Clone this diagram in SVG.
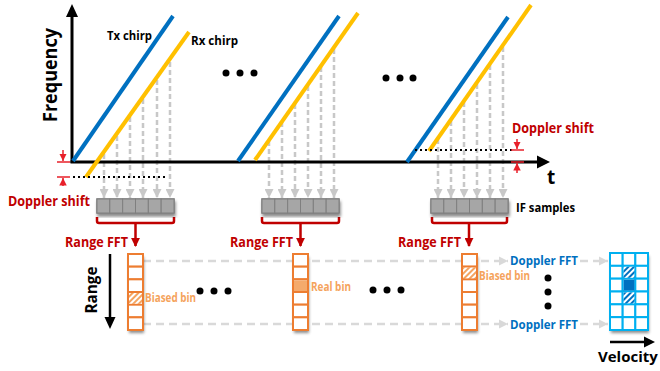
<svg xmlns="http://www.w3.org/2000/svg" width="660" height="371" viewBox="0 0 660 371">
  <style>
    text { font-family: "Open Sans", "Noto Sans", "DejaVu Sans", sans-serif; font-weight: bold; }
    .axis { stroke: #000; stroke-width: 3; fill: none; }
    .tx { stroke: #0070c0; stroke-width: 4; }
    .rx { stroke: #ffc000; stroke-width: 4; }
    .samp { stroke: #c8c8c8; stroke-width: 2.5; stroke-dasharray: 5 3; fill: none; }
    .dot { stroke: #000; stroke-width: 2; stroke-dasharray: 2 3; fill: none; }
    .red { fill: #c00000; }
    .redline { stroke: #c00000; stroke-width: 2.5; fill: none; }
    .shift { stroke: #e8202a; stroke-width: 1.5; fill: none; }
    .guide { stroke: #d9d9d9; stroke-width: 2.5; stroke-dasharray: 8 5; fill: none; }
    .cell { fill: #a6a6a6; stroke: #7f7f7f; stroke-width: 1; }
    .ocell { fill: #fff; stroke: #ed7d31; stroke-width: 2; }
    .bcell { fill: #fff; stroke: #00b0f0; stroke-width: 2; }
    .olabel { fill: #f5a35c; font-size: 12px; }
    .blabel { fill: #0070c0; font-size: 13px; }
  </style>
  <defs>
    <filter id="shadow" x="-30%" y="-30%" width="160%" height="160%">
      <feDropShadow dx="1" dy="3" stdDeviation="1.5" flood-color="#000" flood-opacity="0.45"/>
    </filter>
    <pattern id="hatchO" width="4" height="4" patternUnits="userSpaceOnUse" patternTransform="rotate(45)">
      <rect width="4" height="4" fill="#fff"/>
      <rect width="2" height="4" fill="#f4a460"/>
    </pattern>
    <pattern id="hatchB" width="4" height="4" patternUnits="userSpaceOnUse" patternTransform="rotate(45)">
      <rect width="4" height="4" fill="#fff"/>
      <rect width="2" height="4" fill="#0070c0"/>
    </pattern>
    <marker id="grayHead" viewBox="0 0 10 10" refX="10" refY="5" markerWidth="3.6" markerHeight="3.6" orient="auto" markerUnits="strokeWidth">
      <path d="M0,0 L10,5 L0,10 Z" fill="#c8c8c8"/>
    </marker>
    <marker id="guideHead" viewBox="0 0 10 10" refX="10" refY="5" markerWidth="3.6" markerHeight="4" orient="auto" markerUnits="strokeWidth">
      <path d="M0,0 L10,5 L0,10 Z" fill="#d9d9d9"/>
    </marker>
    <marker id="redHead" viewBox="0 0 10 10" refX="9" refY="5" markerWidth="3.6" markerHeight="3.6" orient="auto" markerUnits="strokeWidth">
      <path d="M0,0 L10,5 L0,10 Z" fill="#c00000"/>
    </marker>
    <marker id="shiftHead" viewBox="0 0 10 10" refX="10" refY="5" markerWidth="5" markerHeight="5" orient="auto" markerUnits="strokeWidth">
      <path d="M0,0 L10,5 L0,10 Z" fill="#e8202a"/>
    </marker>
    <g id="sampleBox">
      <rect x="0" y="0" width="77" height="14" fill="#8c8c8c" stroke="#7f7f7f" stroke-width="1.5" filter="url(#shadow)"/>
      <rect class="cell" x="0" y="0" width="12.83" height="14"/>
      <rect class="cell" x="12.83" y="0" width="12.83" height="14"/>
      <rect class="cell" x="25.67" y="0" width="12.83" height="14"/>
      <rect class="cell" x="38.5" y="0" width="12.83" height="14"/>
      <rect class="cell" x="51.33" y="0" width="12.83" height="14"/>
      <rect class="cell" x="64.17" y="0" width="12.83" height="14"/>
    </g>
    <g id="rangeCol">
      <rect x="0" y="0" width="15" height="76" fill="#fff" filter="url(#shadow)"/>
      <rect class="ocell" x="0" y="0" width="15" height="12.67"/>
      <rect class="ocell" x="0" y="12.67" width="15" height="12.67"/>
      <rect class="ocell" x="0" y="25.33" width="15" height="12.67"/>
      <rect class="ocell" x="0" y="38" width="15" height="12.67"/>
      <rect class="ocell" x="0" y="50.67" width="15" height="12.67"/>
      <rect class="ocell" x="0" y="63.33" width="15" height="12.67"/>
    </g>
  </defs>

  <!-- bottom guide lines feeding the Doppler FFT (drawn first, behind the columns) -->
  <g id="connectors">
    <path class="guide" d="M143,261 H508" marker-end="url(#guideHead)"/>
    <path class="guide" d="M580,261 H608" marker-end="url(#guideHead)"/>
    <path class="guide" d="M143,324 H508" marker-end="url(#guideHead)"/>
    <path class="guide" d="M580,324 H608" marker-end="url(#guideHead)"/>

    <!-- IF sampling arrows, chirp 1 -->
    <path class="samp" d="M104,154 V198" marker-end="url(#grayHead)"/>
    <path class="samp" d="M117,136 V198" marker-end="url(#grayHead)"/>
    <path class="samp" d="M130,117 V198" marker-end="url(#grayHead)"/>
    <path class="samp" d="M143,99 V198" marker-end="url(#grayHead)"/>
    <path class="samp" d="M157,80 V198" marker-end="url(#grayHead)"/>
    <path class="samp" d="M170,62 V198" marker-end="url(#grayHead)"/>
    <!-- chirp 2 -->
    <path class="samp" d="M269,141 V198" marker-end="url(#grayHead)"/>
    <path class="samp" d="M282,122 V198" marker-end="url(#grayHead)"/>
    <path class="samp" d="M295,104 V198" marker-end="url(#grayHead)"/>
    <path class="samp" d="M308,86 V198" marker-end="url(#grayHead)"/>
    <path class="samp" d="M321,67 V198" marker-end="url(#grayHead)"/>
    <path class="samp" d="M334,49 V198" marker-end="url(#grayHead)"/>
    <!-- chirp 3 -->
    <path class="samp" d="M438,139 V198" marker-end="url(#grayHead)"/>
    <path class="samp" d="M451,121 V198" marker-end="url(#grayHead)"/>
    <path class="samp" d="M464,102 V198" marker-end="url(#grayHead)"/>
    <path class="samp" d="M477,84 V198" marker-end="url(#grayHead)"/>
    <path class="samp" d="M490,65 V198" marker-end="url(#grayHead)"/>
    <path class="samp" d="M503,47 V198" marker-end="url(#grayHead)"/>

    <!-- brackets and Range FFT arrows -->
    <path class="redline" d="M97,217 V221 Q97,223 99,223 H172 Q174,223 174,221 V217 M135.5,223 V246" marker-end="url(#redHead)"/>
    <path class="redline" d="M262,217 V221 Q262,223 264,223 H337 Q339,223 339,221 V217 M300.5,223 V246" marker-end="url(#redHead)"/>
    <path class="redline" d="M432,217 V221 Q432,223 434,223 H505 Q507,223 507,221 V217 M469,223 V246" marker-end="url(#redHead)"/>
  </g>

  <!-- axes -->
  <g id="axes">
    <path class="axis" d="M72,163 V14"/>
    <path d="M66,17 L72,4 L78,17 Z" fill="#000"/>
    <path class="axis" d="M70.5,162 H538"/>
    <path d="M537,155.5 L550,162 L537,168.5 Z" fill="#000"/>
    <text x="0" y="0" font-size="19" transform="translate(57,75) rotate(-90)" text-anchor="middle" textLength="94" lengthAdjust="spacingAndGlyphs">Frequency</text>
    <text x="547" y="184" font-size="19">t</text>
  </g>

  <!-- chirps -->
  <g id="chirp1">
    <line class="tx" x1="73" y1="161" x2="173" y2="16"/>
    <line class="rx" x1="86" y1="177" x2="189" y2="32"/>
    <path class="dot" d="M73,177 H168"/>
    <text x="107" y="40" font-size="12" textLength="45" lengthAdjust="spacingAndGlyphs">Tx chirp</text>
    <text x="191" y="45" font-size="12" textLength="47" lengthAdjust="spacingAndGlyphs">Rx chirp</text>
  </g>
  <g id="chirp2">
    <line class="tx" x1="238" y1="161" x2="339" y2="16"/>
    <line class="rx" x1="255" y1="160" x2="358" y2="13"/>
  </g>
  <g id="chirp3">
    <line class="tx" x1="407" y1="162" x2="508" y2="17"/>
    <line class="rx" x1="429" y1="151" x2="531" y2="5"/>
    <path class="dot" d="M415,150 H513"/>
  </g>

  <!-- Doppler shift markers -->
  <g id="shiftLeft">
    <path class="shift" d="M57,162 H70 M57,177 H70"/>
    <path class="shift" d="M63,150 V161" marker-end="url(#shiftHead)"/>
    <path class="shift" d="M63,186 V178" marker-end="url(#shiftHead)"/>
    <text x="8" y="206" font-size="13.5" class="red" textLength="82" lengthAdjust="spacingAndGlyphs">Doppler shift</text>
  </g>
  <g id="shiftRight">
    <path class="shift" d="M511,150 H524 M511,162 H524"/>
    <path class="shift" d="M517,139 V149" marker-end="url(#shiftHead)"/>
    <path class="shift" d="M517,173 V163" marker-end="url(#shiftHead)"/>
    <text x="512" y="133" font-size="13.5" class="red" textLength="82" lengthAdjust="spacingAndGlyphs">Doppler shift</text>
  </g>

  <!-- ellipses -->
  <g id="dotsTop" fill="#000">
    <circle cx="226" cy="73" r="3.5"/><circle cx="240" cy="73" r="3.5"/><circle cx="254" cy="73" r="3.5"/>
    <circle cx="386" cy="78" r="3.5"/><circle cx="400" cy="78" r="3.5"/><circle cx="413" cy="78" r="3.5"/>
  </g>
  <g id="dotsBottom" fill="#000">
    <circle cx="200" cy="291" r="3.5"/><circle cx="214" cy="291" r="3.5"/><circle cx="228" cy="291" r="3.5"/>
    <circle cx="373" cy="290" r="3.5"/><circle cx="387" cy="290" r="3.5"/><circle cx="401" cy="290" r="3.5"/>
    <circle cx="548" cy="278" r="3.5"/><circle cx="548" cy="292" r="3.5"/><circle cx="548" cy="306" r="3.5"/>
  </g>

  <!-- IF sample buffers -->
  <g id="samples1"><use href="#sampleBox" x="97" y="199"/></g>
  <g id="samples2"><use href="#sampleBox" x="262" y="199"/></g>
  <g id="samples3"><use href="#sampleBox" x="431" y="199"/>
    <text x="516" y="212" font-size="12.5" textLength="59" lengthAdjust="spacingAndGlyphs">IF samples</text>
  </g>

  <!-- Range FFT labels -->
  <g id="rangeFftLabels" class="red">
    <text x="65" y="247" font-size="14" textLength="63" lengthAdjust="spacingAndGlyphs">Range FFT</text>
    <text x="230" y="247" font-size="14" textLength="63" lengthAdjust="spacingAndGlyphs">Range FFT</text>
    <text x="398" y="247" font-size="14" textLength="63" lengthAdjust="spacingAndGlyphs">Range FFT</text>
  </g>

  <!-- range axis -->
  <g id="rangeAxis">
    <path d="M110,254 V318" stroke="#000" stroke-width="2.5"/>
    <path d="M104.5,317 L110,329 L115.5,317 Z" fill="#000"/>
    <text x="0" y="0" font-size="16" transform="translate(97,290) rotate(-90)" text-anchor="middle" textLength="47" lengthAdjust="spacingAndGlyphs">Range</text>
  </g>

  <!-- range FFT outputs -->
  <g id="rangeCol1">
    <use href="#rangeCol" x="128" y="254"/>
    <rect x="129" y="293" width="13" height="10.67" fill="url(#hatchO)"/>
    <text x="145" y="302" class="olabel" textLength="51" lengthAdjust="spacingAndGlyphs">Biased bin</text>
  </g>
  <g id="rangeCol2">
    <use href="#rangeCol" x="293" y="254"/>
    <rect x="294" y="280.33" width="13" height="10.67" fill="#f4aa6c"/>
    <text x="311" y="291" class="olabel" textLength="40" lengthAdjust="spacingAndGlyphs">Real bin</text>
  </g>
  <g id="rangeCol3">
    <use href="#rangeCol" x="462" y="254"/>
    <rect x="463" y="267.67" width="13" height="10.67" fill="url(#hatchO)"/>
    <text x="479" y="279.5" class="olabel" textLength="51" lengthAdjust="spacingAndGlyphs">Biased bin</text>
  </g>

  <!-- Doppler FFT labels -->
  <g id="dopplerLabels">
    <text x="510" y="265" class="blabel" textLength="68" lengthAdjust="spacingAndGlyphs">Doppler FFT</text>
    <text x="510" y="329" class="blabel" textLength="68" lengthAdjust="spacingAndGlyphs">Doppler FFT</text>
  </g>

  <!-- range-Doppler map -->
  <g id="rdMap">
    <rect x="610" y="253" width="38" height="77" fill="#fff" filter="url(#shadow)"/>
    <g class="bcell">
      <rect x="610" y="253" width="12.67" height="12.83"/><rect x="622.67" y="253" width="12.67" height="12.83"/><rect x="635.33" y="253" width="12.67" height="12.83"/>
      <rect x="610" y="265.83" width="12.67" height="12.83"/><rect x="622.67" y="265.83" width="12.67" height="12.83"/><rect x="635.33" y="265.83" width="12.67" height="12.83"/>
      <rect x="610" y="278.67" width="12.67" height="12.83"/><rect x="622.67" y="278.67" width="12.67" height="12.83"/><rect x="635.33" y="278.67" width="12.67" height="12.83"/>
      <rect x="610" y="291.5" width="12.67" height="12.83"/><rect x="622.67" y="291.5" width="12.67" height="12.83"/><rect x="635.33" y="291.5" width="12.67" height="12.83"/>
      <rect x="610" y="304.33" width="12.67" height="12.83"/><rect x="622.67" y="304.33" width="12.67" height="12.83"/><rect x="635.33" y="304.33" width="12.67" height="12.83"/>
      <rect x="610" y="317.17" width="12.67" height="12.83"/><rect x="622.67" y="317.17" width="12.67" height="12.83"/><rect x="635.33" y="317.17" width="12.67" height="12.83"/>
    </g>
    <rect x="623.67" y="266.83" width="10.67" height="10.83" fill="url(#hatchB)"/>
    <rect x="623.67" y="279.67" width="10.67" height="10.83" fill="#0070c0"/>
    <rect x="623.67" y="292.5" width="10.67" height="10.83" fill="url(#hatchB)"/>
  </g>

  <!-- velocity axis -->
  <g id="velocityAxis">
    <path d="M610,342 H645" stroke="#000" stroke-width="2.5"/>
    <path d="M644,336.5 L655,342 L644,347.5 Z" fill="#000"/>
    <text x="598" y="362" font-size="15">Velocity</text>
  </g>
</svg>
